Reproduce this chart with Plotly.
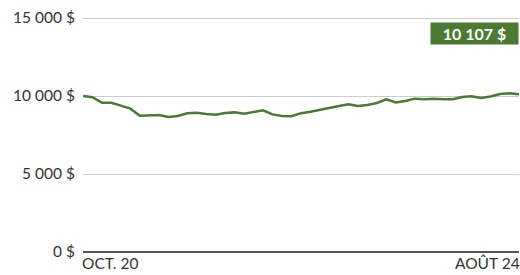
import plotly.graph_objects as go

months = [f"{m} {y}" for y, ms in [(2020, range(10, 13)), (2021, range(1, 13)), (2022, range(1, 13)), (2023, range(1, 13)), (2024, range(1, 9))] for m in ms]
values = [10000, 9920, 9570, 9570, 9380, 9190, 8740, 8740, 8780, 8650,
          8720, 8890, 8930, 8850, 8800, 8910, 8950, 8870, 8970, 9080,
          8820, 8720, 8700, 8900, 8990, 9130, 9260, 9360, 9470, 9360,
          9420, 9550, 9790, 9580, 9680, 9830, 9790, 9830, 9790, 9790,
          9940, 9980, 9870, 9970, 10130, 10170, 10107]
y_ticks = [0, 5000, 10000, 15000]
y_labels = ["0 $", "5 000 $", "10 000 $", "15 000 $"]
x_labels = ["OCT. 20", "AOÛT 24"]
final_label = "10 107 $"

green = "#4a7a33"
font = "Lato, 'Open Sans', sans-serif"
fsize = 15.5

fig = go.Figure()
fig.add_trace(go.Scatter(x=list(range(len(values))), y=values, mode="lines",
                         line=dict(color=green, width=2.5), hoverinfo="skip"))

fig.add_annotation(x=0, y=0, xref="x", yref="y", text=x_labels[0], showarrow=False,
                   xanchor="left", yanchor="top", yshift=0, xshift=-3,
                   font=dict(family=font, size=fsize, color="#333"))
fig.add_annotation(x=len(values) - 1, y=0, xref="x", yref="y", text=x_labels[1], showarrow=False,
                   xanchor="right", yanchor="top", yshift=0, xshift=3,
                   font=dict(family=font, size=fsize, color="#333"))
fig.add_annotation(x=1, y=14020, xref="paper", yref="y", text="<b>" + final_label + "</b>",
                   showarrow=False, xanchor="right", yanchor="middle", xshift=0,
                   bgcolor=green, borderpad=2, width=83, height=17,
                   font=dict(family=font, size=16, color="white"))

fig.update_layout(
    width=520, height=275,
    margin=dict(l=83, r=1, t=16, b=23),
    paper_bgcolor="white", plot_bgcolor="white",
    showlegend=False,
    font=dict(family=font, size=fsize, color="#333"),
    xaxis=dict(range=[0, len(values) - 1], showgrid=False, showticklabels=False,
               zeroline=False, showline=False, ticks=""),
    yaxis=dict(range=[0, 15128], tickvals=y_ticks, ticktext=y_labels,
               showgrid=True, gridcolor="#cccccc", gridwidth=1,
               zeroline=True, zerolinecolor="#555555", zerolinewidth=1.5,
               showline=False, ticks="", ticklabelstandoff=7,
               tickfont=dict(family=font, size=fsize, color="#333")),
)
fig.write_html("out.html", config={"displayModeBar": False},
               post_script="document.body.style.margin='0';document.body.style.overflow='hidden';")
